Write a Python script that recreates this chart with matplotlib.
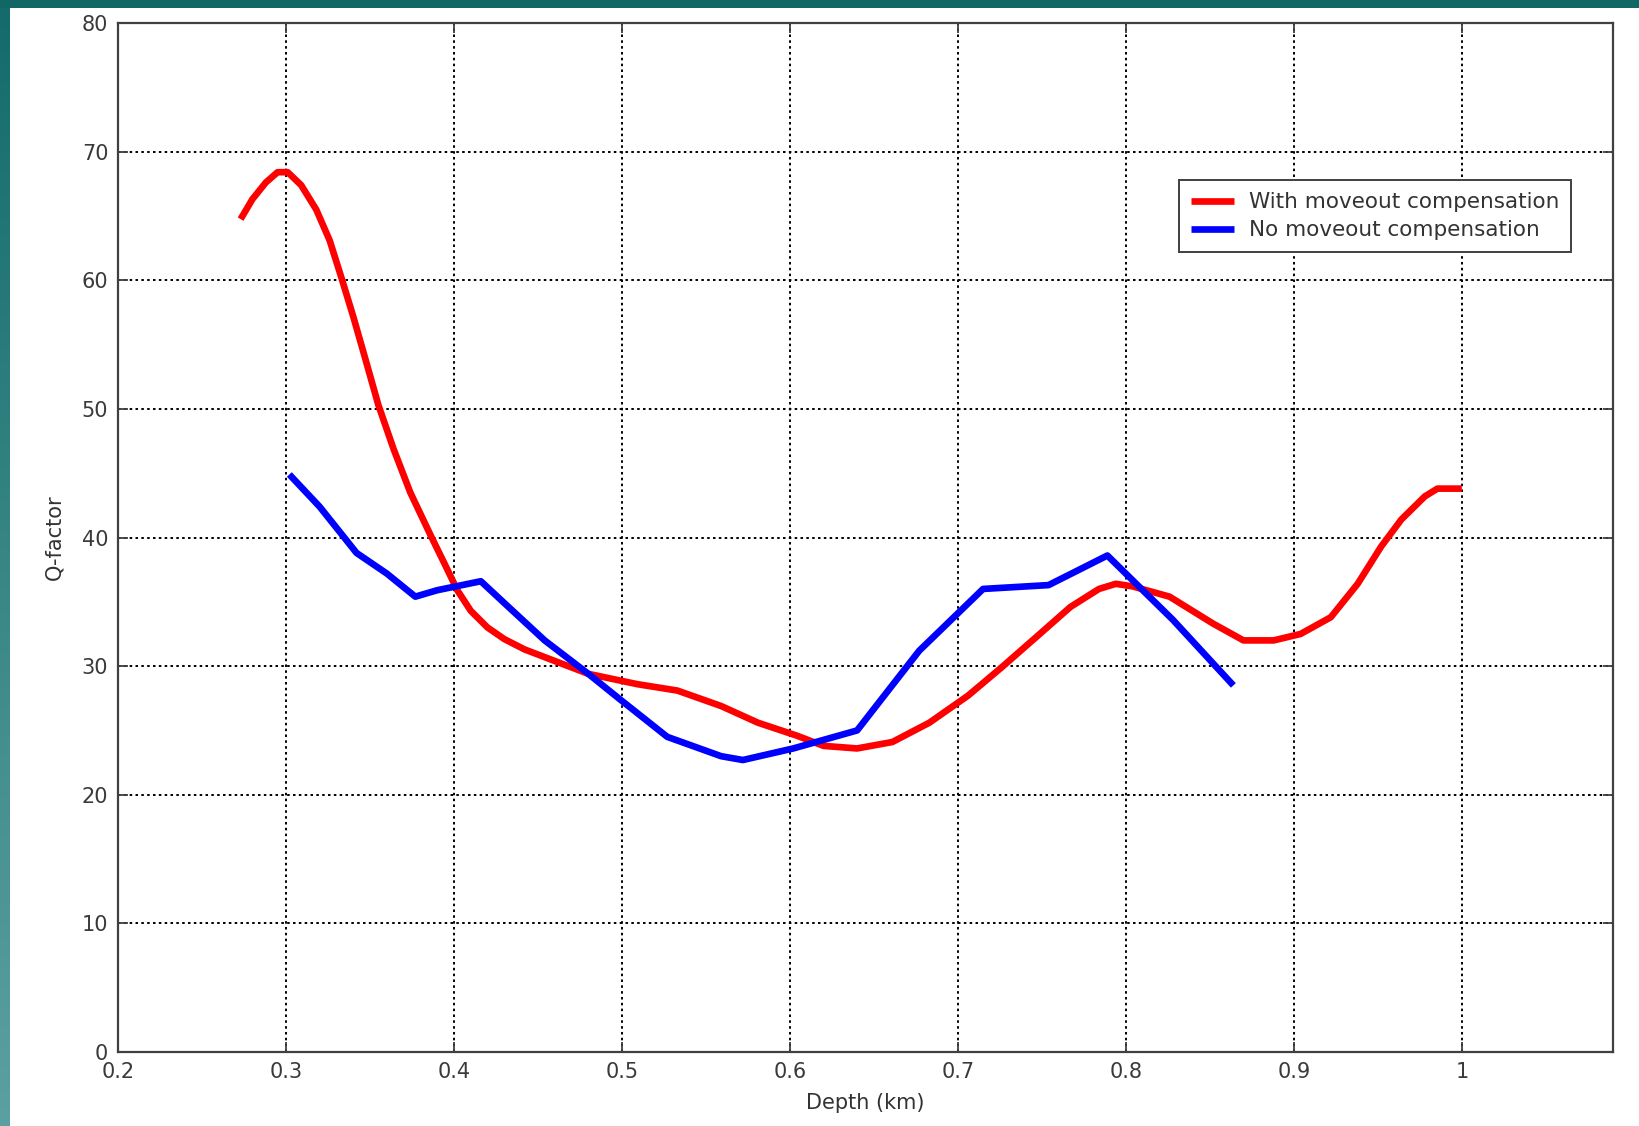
import numpy as np
import matplotlib
matplotlib.use("Agg")
import matplotlib.pyplot as plt

# ---- data ----
red_depth = [0.273, 0.280, 0.288, 0.295, 0.301, 0.309, 0.318, 0.326, 0.333, 0.340,
             0.347, 0.355, 0.364, 0.374, 0.386, 0.395, 0.402, 0.410, 0.420, 0.430,
             0.442, 0.454, 0.480, 0.509, 0.533, 0.559, 0.581, 0.604, 0.620, 0.640,
             0.661, 0.683, 0.706, 0.726, 0.747, 0.767, 0.784, 0.794, 0.804, 0.826,
             0.852, 0.870, 0.888, 0.904, 0.922, 0.938, 0.952, 0.964, 0.978, 0.9855,
             1.000]
red_q = [64.75, 66.3, 67.6, 68.4, 68.4, 67.4, 65.5, 63.1, 60.2, 57.2,
         54.0, 50.3, 46.9, 43.5, 40.2, 37.8, 35.9, 34.3, 33.0, 32.1,
         31.3, 30.7, 29.4, 28.6, 28.1, 26.9, 25.6, 24.6, 23.8, 23.6,
         24.1, 25.6, 27.7, 29.9, 32.3, 34.6, 36.0, 36.4, 36.2, 35.4,
         33.3, 32.0, 32.0, 32.5, 33.8, 36.4, 39.3, 41.4, 43.2, 43.8,
         43.8]

blue_depth = [0.302, 0.320, 0.342, 0.360, 0.377, 0.390, 0.416, 0.430, 0.454, 0.480,
              0.499, 0.527, 0.559, 0.572, 0.602, 0.640, 0.677, 0.715, 0.754, 0.789,
              0.828, 0.864]
blue_q = [44.9, 42.4, 38.8, 37.2, 35.4, 35.9, 36.6, 34.9, 32.0, 29.4,
          27.4, 24.5, 23.0, 22.7, 23.6, 25.0, 31.2, 36.0, 36.3, 38.6,
          33.6, 28.5]

labels = ["With moveout compensation", "No moveout compensation"]
x_ticks = [0.2, 0.3, 0.4, 0.5, 0.6, 0.7, 0.8, 0.9, 1.0]
x_ticklabels = ["0.2", "0.3", "0.4", "0.5", "0.6", "0.7", "0.8", "0.9", "1"]
y_ticks = [0, 10, 20, 30, 40, 50, 60, 70, 80]

plt.rcParams['font.family'] = ['DejaVu Sans']

fig = plt.figure(figsize=(16.4, 11.26), dpi=100)
fig.patch.set_facecolor('white')

# teal frame: top bar and left gradient bar
top_ax = fig.add_axes([0, 1 - 8 / 1126, 1, 8 / 1126])
top_ax.set_axis_off()
top_ax.imshow(np.array([[[0.07, 0.40, 0.40]]]), aspect='auto', extent=[0, 1, 0, 1])
left_ax = fig.add_axes([0, 0, 10 / 1640, 1 - 8 / 1126])
left_ax.set_axis_off()
grad = np.linspace(0, 1, 256)[:, None]
c_top = np.array([0.08, 0.42, 0.42])
c_bot = np.array([0.36, 0.63, 0.63])
img = (c_top[None, None, :] * (1 - grad[:, :, None]) + c_bot[None, None, :] * grad[:, :, None])
left_ax.imshow(img, aspect='auto', extent=[0, 1, 0, 1])

ax = fig.add_axes([118 / 1640, 1 - 1052 / 1126, (1613 - 118) / 1640, (1052 - 23) / 1126])
ax.plot(red_depth, red_q, color='#ff0000', lw=4.8, label=labels[0],
        solid_joinstyle='round', solid_capstyle='butt')
ax.plot(blue_depth, blue_q, color='#0000ff', lw=4.8, label=labels[1],
        solid_joinstyle='round', solid_capstyle='butt')

ax.set_xlim(0.2, 1.09)
ax.set_ylim(0, 80)
ax.set_xticks(x_ticks)
ax.set_xticklabels(x_ticklabels)
ax.set_yticks(y_ticks)

ax.grid(True, color='black', linestyle=(0, (1.3, 1.7)), linewidth=1.4)
ax.set_axisbelow(True)
ax.tick_params(direction='in', top=True, right=True, length=7, width=1.3,
               labelsize=15, labelcolor='#3a3a3a', color='#404040', pad=7)
for s in ax.spines.values():
    s.set_color('#404040')
    s.set_linewidth(1.6)

ax.set_xlabel('Depth (km)', fontsize=15, color='#333333')
ax.set_ylabel('Q-factor', fontsize=15, color='#333333')
ax.xaxis.set_label_coords(0.5, -0.040)
ax.yaxis.set_label_coords(-0.036, 0.5)

leg = ax.legend(loc='upper right', bbox_to_anchor=(0.972, 0.847), borderaxespad=0,
                fontsize=15.5, fancybox=False, shadow=False, framealpha=1,
                edgecolor='#404040', handlelength=2.0, handletextpad=0.7,
                labelspacing=0.38, borderpad=0.55)
leg.get_frame().set_linewidth(1.4)
for t in leg.get_texts():
    t.set_color('#333333')

fig.savefig('out.png', dpi=100, facecolor='white')
